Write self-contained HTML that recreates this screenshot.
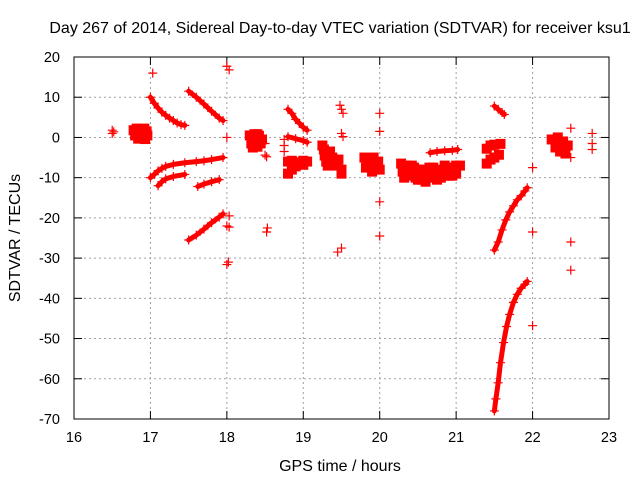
<!DOCTYPE html>
<html><head><meta charset="utf-8"><style>
body{margin:0;background:#fff}
svg{display:block;font-family:"Liberation Sans",sans-serif}
</style></head><body>
<svg id="chart" width="640" height="480" xmlns="http://www.w3.org/2000/svg">
<rect width="640" height="480" fill="#fff"/>
<text x="340" y="33" font-size="16" text-anchor="middle" fill="#000">Day 267 of 2014, Sidereal Day-to-day VTEC variation (SDTVAR) for receiver ksu1</text>
<g id="grid"></g>
<g id="ticks"></g>
<g id="marks"></g>
<rect x="74" y="57" width="535" height="362" fill="none" stroke="#000" stroke-width="1"/>
<text x="340" y="471" font-size="16" text-anchor="middle">GPS time / hours</text>
<text transform="translate(20,238) rotate(-90)" font-size="16" text-anchor="middle">SDTVAR / TECUs</text>
</svg>
<script>
const xTicks=[16,17,18,19,20,21,22,23];
const yTicks=[20,10,0,-10,-20,-30,-40,-50,-60,-70];
// series segments: [time, value] pairs
const segA=[[16.5,1.8],[16.5,1.0],[16.52,1.4]];
const segB=[[16.78,1.8],[16.8,0.5],[16.82,2.2],[16.84,-0.3],[16.85,1.2],[16.87,2.0],[16.88,0.0],[16.9,1.0],[16.92,2.2],[16.93,-0.4],[16.95,1.5],[16.96,0.5]];
const segC=[[17.03,16]];
const segD=[[17.0,10],[17.05,8.5],[17.1,7.3],[17.15,6.3],[17.2,5.5],[17.25,4.8],[17.3,4.2],[17.35,3.6],[17.4,3.2],[17.45,3.0]];
const segE=[[17.5,11.5],[17.6,10],[17.7,8.3],[17.8,6.5],[17.9,4.8],[17.95,4.2]];
const segF=[[18.0,17.7],[18.03,16.8]];
const segG=[[17.0,-10],[17.05,-9.2],[17.1,-8.3],[17.15,-7.7],[17.2,-7.2],[17.3,-6.7],[17.45,-6.3],[17.6,-6.0],[17.7,-5.8],[17.8,-5.5],[17.95,-5.0]];
const segH=[[17.1,-12],[17.15,-11],[17.2,-10.3],[17.3,-9.7],[17.45,-9.2]];
const segI=[[17.62,-12.2],[17.7,-11.6],[17.8,-11.0],[17.9,-10.5]];
const segJ=[[17.5,-25.5],[17.6,-24.3],[17.7,-22.8],[17.8,-21.2],[17.9,-19.8],[17.95,-19]];
const segK=[[18.0,0],[18.03,-19.5],[18.0,-22],[18.03,-22.3],[18.0,-31.6],[18.02,-31]];
const segL=[[18.3,0.5],[18.32,-1.5],[18.34,-2.5],[18.36,0.8],[18.38,-1],[18.4,-2.3],[18.42,0.4],[18.44,-1.5],[18.46,-0.5],[18.35,-0.3],[18.4,0.8]];
const segM=[[18.5,-1.5],[18.5,-4.4],[18.52,-4.8],[18.53,-22.5],[18.52,-23.5],[18.75,-0.5],[18.75,-2],[18.75,-3.5]];
const segN=[[18.8,7],[18.85,6],[18.9,4.5],[18.95,3.5],[19.0,2.5],[19.05,1.8]];
const segO=[[18.8,0.2],[18.9,-0.3],[19.0,-0.8],[19.05,-1.2]];
const segP=[[18.8,-6],[18.85,-5.8],[18.9,-6.2],[19.0,-5.8],[19.05,-6],[18.8,-9],[18.85,-8],[18.9,-7.2],[19.0,-6.8]];
const segQ=[[19.48,8],[19.5,7],[19.52,6],[19.5,1.0],[19.52,0.2],[19.45,-28.5],[19.5,-27.5]];
const segR=[[19.25,-2],[19.27,-3],[19.28,-4.5],[19.3,-6],[19.32,-7],[19.35,-3.5],[19.33,-5],[19.38,-5],[19.4,-6.5],[19.43,-7],[19.46,-5.5],[19.5,-8],[19.5,-9]];
const segS=[[19.8,-5],[19.82,-7.5],[19.85,-6],[19.9,-8.5],[19.92,-5],[19.95,-7],[19.98,-6],[20.0,-8],[19.88,-6.8]];
const segT=[[20.0,6],[20.0,1.5],[20.0,-16],[20.0,-24.5]];
const segU=[[20.28,-6.5],[20.3,-8.5],[20.32,-10],[20.36,-7],[20.36,-9.5],[20.4,-9],[20.42,-7],[20.45,-7.5],[20.47,-10],[20.5,-10.5],[20.5,-8],[20.55,-8],[20.55,-10.5],[20.6,-11],[20.6,-8.5],[20.65,-9],[20.65,-7.5],[20.7,-7.5],[20.7,-10],[20.75,-10.5],[20.75,-8],[20.8,-8.5],[20.8,-10],[20.85,-7],[20.85,-9.5],[20.9,-9.5],[20.9,-7.5],[20.95,-7.5],[20.95,-9.5],[21.0,-9],[21.0,-7],[21.05,-7]];
const segV=[[20.66,-3.8],[20.75,-3.5],[20.85,-3.3],[20.95,-3.2],[21.02,-3.0]];
const segW=[[21.4,-2.8],[21.45,-2],[21.5,-1.8],[21.58,-1.6],[21.4,-6.5],[21.45,-5.5],[21.5,-5],[21.56,-4.3]];
const segX=[[21.5,7.8],[21.55,7],[21.6,6.2],[21.63,5.7]];
const segY=[[21.5,-28],[21.55,-26],[21.6,-23],[21.65,-20.5],[21.7,-18.5],[21.75,-17],[21.8,-15.5],[21.85,-14.5],[21.9,-13.3],[21.93,-12.5]];
const segZ=[[21.5,-68],[21.52,-65],[21.55,-61],[21.58,-56],[21.62,-51],[21.66,-47],[21.7,-44],[21.75,-41],[21.8,-39],[21.85,-37.5],[21.9,-36.5],[21.93,-35.8]];
const seg2=[[22.0,-7.5],[22.0,-23.5],[22.0,-46.8],[22.5,-26],[22.5,-33],[22.5,2.3],[22.5,-5],[22.78,1],[22.78,-1.5],[22.78,-3]];
const seg3=[[22.25,-0.5],[22.3,-2.5],[22.33,0],[22.36,-3.5],[22.4,-1],[22.43,-4],[22.46,-2],[22.38,-2]];
const curves=[segD,segE,segG,segH,segI,segJ,segN,segO,segY,segZ,segX,segV];
const allSegs=[segA,segB,segC,segD,segE,segF,segG,segH,segI,segJ,segK,segL,segM,segN,segO,segP,segQ,segR,segS,segT,segU,segV,segW,segX,segY,segZ,seg2,seg3];
const blobs=[segB,segL,segR,segS,segU,seg3,segP,segW];

const NS="http://www.w3.org/2000/svg";
const X0=74,X1=609,Y0=57,Y1=419;
function xs(t){return X0+(t-16)/(23-16)*(X1-X0);}
function ys(v){return Y1-(v+70)/(20+70)*(Y1-Y0);}
function mk(tag,attrs,parent){const e=document.createElementNS(NS,tag);for(const k in attrs)e.setAttribute(k,attrs[k]);parent.appendChild(e);return e;}
const grid=document.getElementById('grid'),ticks=document.getElementById('ticks'),marks=document.getElementById('marks');
xTicks.forEach(t=>{
  const x=xs(t);
  if(t>16&&t<23){const g=mk('line',{x1:x,x2:x,y1:Y0,y2:Y1,stroke:'#a0a0a0','stroke-dasharray':'2,3'},grid);
  
  }
  mk('line',{x1:x,x2:x,y1:Y1,y2:Y1-8,stroke:'#000'},ticks);
  mk('line',{x1:x,x2:x,y1:Y0,y2:Y0+8,stroke:'#000'},ticks);
  const l=mk('text',{x:x,y:Y1+23,'font-size':'14.5','text-anchor':'middle'},ticks);
  l.textContent=t;
  
  
});
yTicks.forEach(v=>{
  const y=ys(v);
  if(v<20&&v>-70){const g=mk('line',{x1:X0,x2:X1,y1:y,y2:y,stroke:'#a0a0a0','stroke-dasharray':'2,3'},grid);
  
  }
  mk('line',{x1:X0,x2:X0+8,y1:y,y2:y,stroke:'#000'},ticks);
  mk('line',{x1:X1,x2:X1-8,y1:y,y2:y,stroke:'#000'},ticks);
  const l=mk('text',{x:X0-14,y:y+5,'font-size':'14.5','text-anchor':'end'},ticks);
  l.textContent=v;
  
  
});
curves.forEach(s=>{
  const p=mk('polyline',{points:s.map(d=>xs(d[0])+','+ys(d[1])).join(' '),fill:'none',stroke:'#f00','stroke-width':5,'stroke-linecap':'round','stroke-linejoin':'round'},marks);
  
  
});
blobs.forEach(s=>{
  s.forEach(d=>{
    const r=mk('rect',{x:xs(d[0])-5,y:ys(d[1])-5,width:10,height:10,fill:'#f00'},marks);
    
    
  });
});
allSegs.forEach(s=>{
  s.forEach(d=>{
    const x=xs(d[0]),y=ys(d[1]);
    const p=mk('path',{d:`M${x-4.5},${y}H${x+4.5}M${x},${y-4.5}V${y+4.5}`,stroke:'#f00','stroke-width':1.2,fill:'none'},marks);
    
    
  });
});
</script>
</body></html>
